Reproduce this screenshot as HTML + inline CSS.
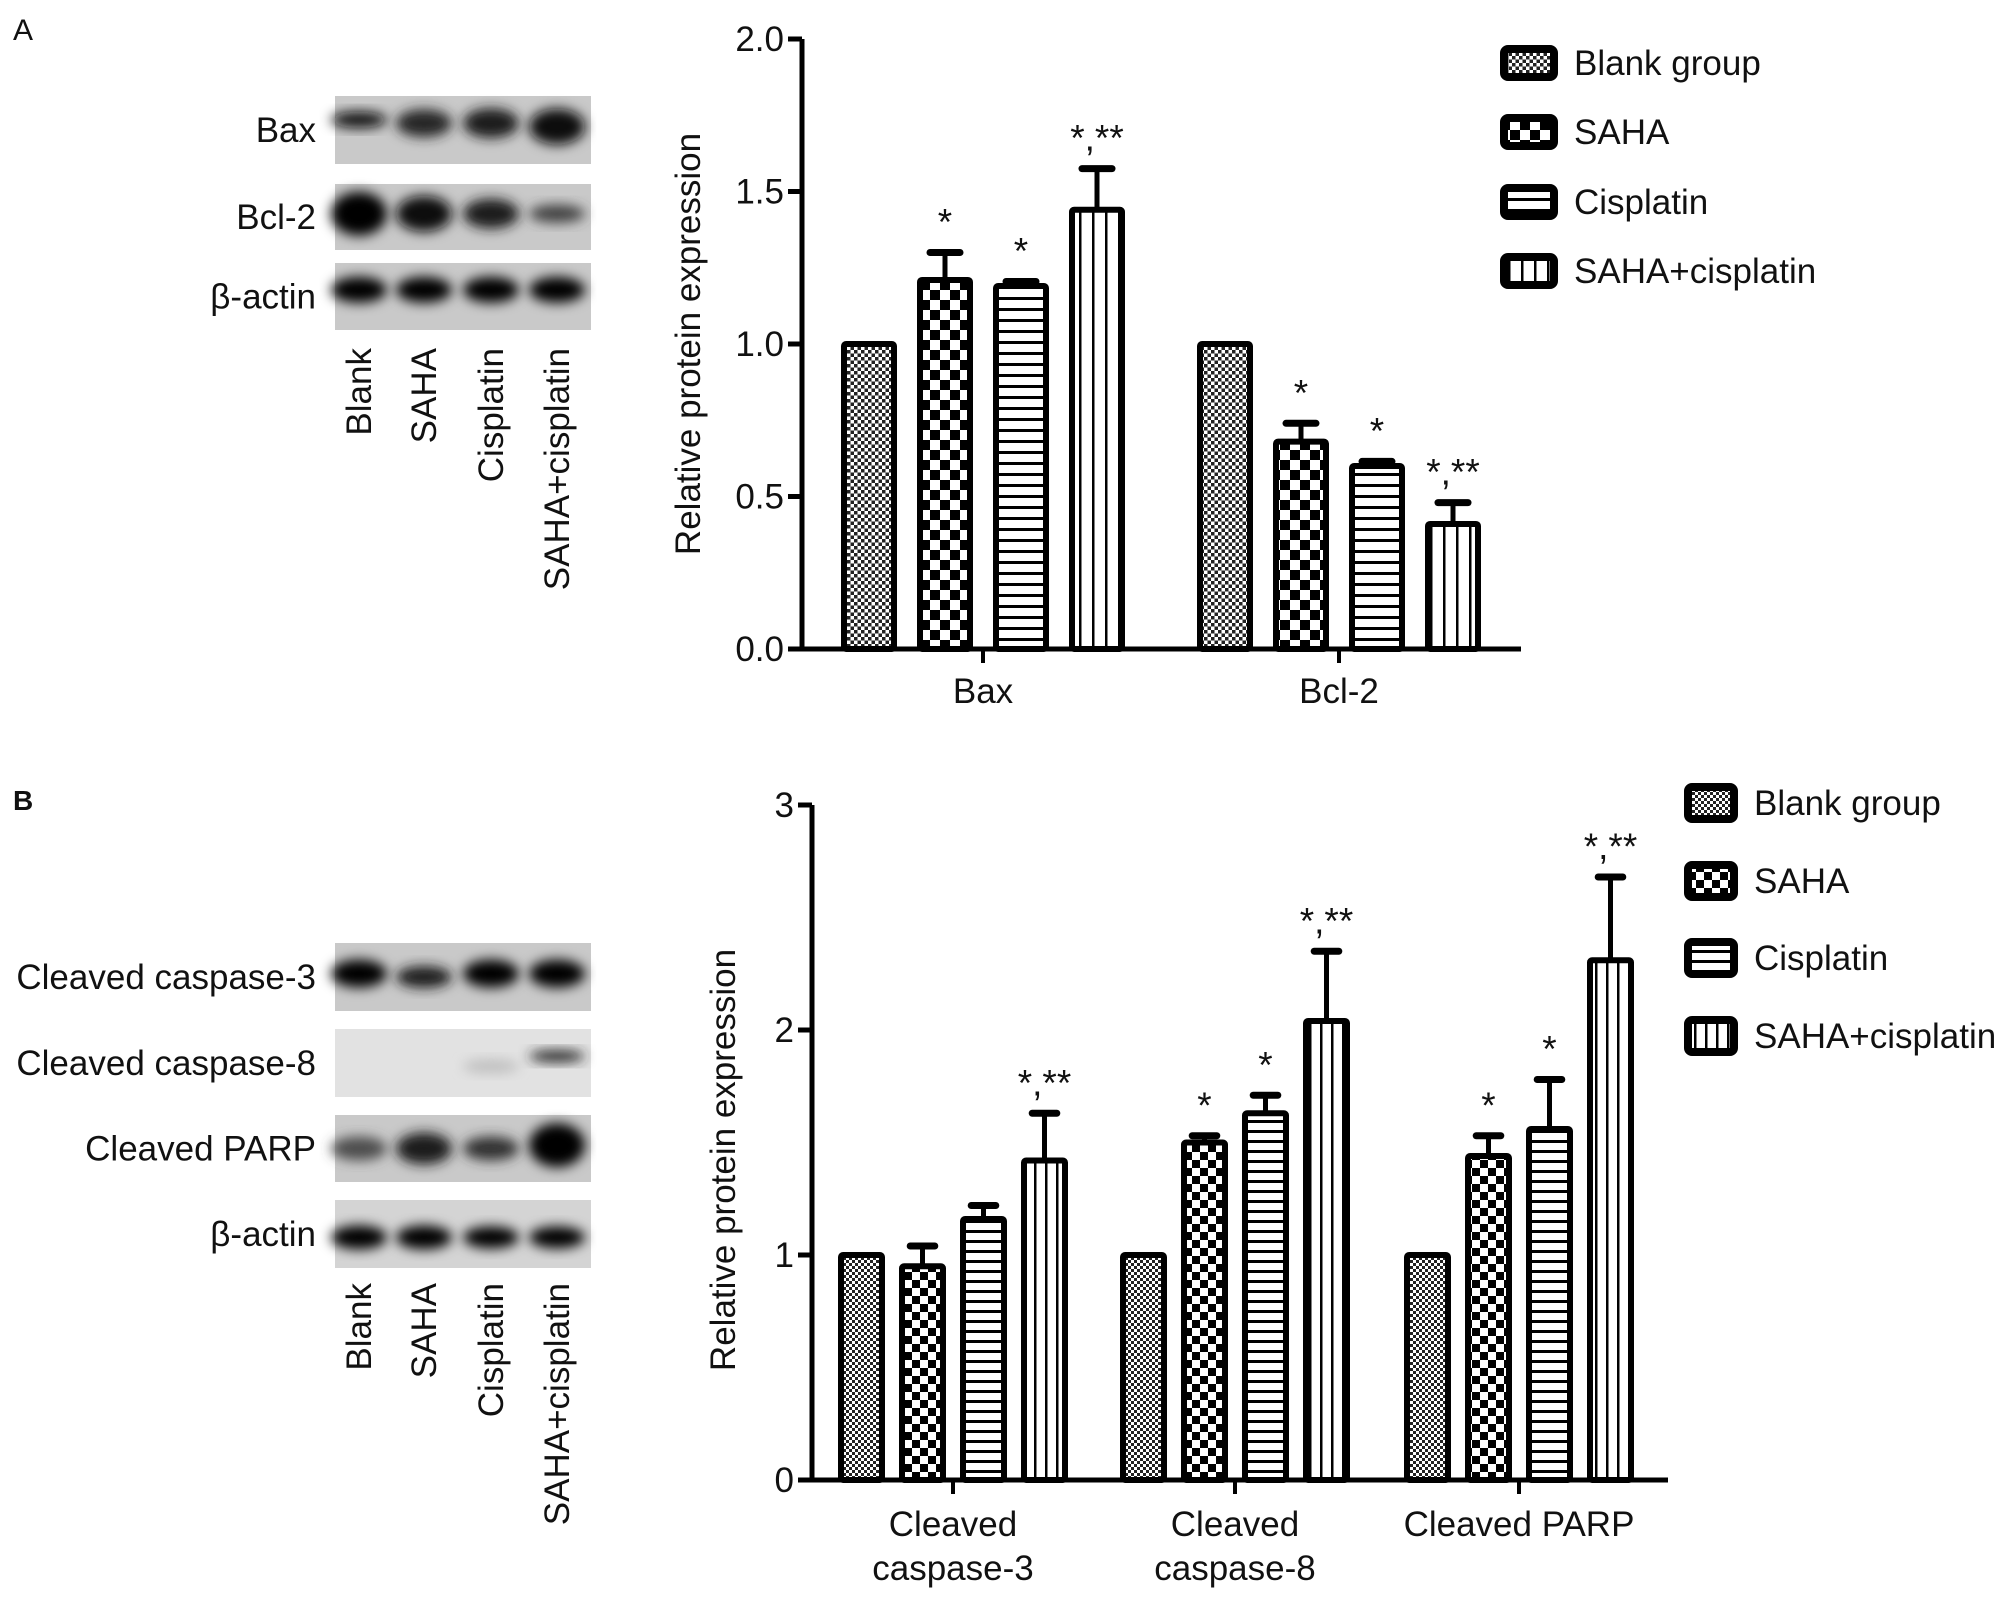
<!DOCTYPE html>
<html><head><meta charset="utf-8"><style>
body{margin:0;background:#fff}
svg{display:block}
text{font-family:"Liberation Sans",Arial,sans-serif;fill:#111}
</style></head><body>
<svg id="fig" width="2008" height="1601" viewBox="0 0 2008 1601" xmlns="http://www.w3.org/2000/svg">
<defs>
<filter id="blur6" x="-20%" y="-50%" width="140%" height="200%"><feGaussianBlur stdDeviation="6"/></filter>
<pattern id="pBlankA" width="7" height="7" patternUnits="userSpaceOnUse"><rect width="7" height="7" fill="#fff"/><rect width="3.5" height="3.5" fill="#222"/><rect x="3.5" y="3.5" width="3.5" height="3.5" fill="#222"/></pattern>
<pattern id="pSahaA" width="20" height="20" patternUnits="userSpaceOnUse"><rect width="20" height="20" fill="#fff"/><rect width="10" height="10" fill="#000"/><rect x="10" y="10" width="10" height="10" fill="#000"/></pattern>
<pattern id="pCisA" width="11" height="11" patternUnits="userSpaceOnUse"><rect width="11" height="11" fill="#fff"/><rect y="0" width="11" height="3" fill="#000"/></pattern>
<pattern id="pComboA" width="13" height="13" patternUnits="userSpaceOnUse"><rect width="13" height="13" fill="#fff"/><rect x="0" width="2.5" height="13" fill="#000"/></pattern>
<pattern id="pBlankB" width="6" height="6" patternUnits="userSpaceOnUse"><rect width="6" height="6" fill="#fff"/><rect width="3" height="3" fill="#222"/><rect x="3" y="3" width="3" height="3" fill="#222"/></pattern>
<pattern id="pSahaB" width="16" height="16" patternUnits="userSpaceOnUse"><rect width="16" height="16" fill="#fff"/><rect width="8" height="8" fill="#000"/><rect x="8" y="8" width="8" height="8" fill="#000"/></pattern>
<pattern id="pCisB" width="10" height="10" patternUnits="userSpaceOnUse"><rect width="10" height="10" fill="#fff"/><rect width="10" height="3" fill="#000"/></pattern>
<pattern id="pComboB" width="11" height="11" patternUnits="userSpaceOnUse"><rect width="11" height="11" fill="#fff"/><rect width="2.5" height="11" fill="#000"/></pattern>
</defs>

<text x="13" y="40" font-size="30">A</text>
<text x="13" y="810" font-size="28" font-weight="bold">B</text>

<g id="blotA"></g>
<g id="blotB"></g>
<g id="chartA"></g>
<g id="chartB"></g>
</svg>
<script>
// ---- Data: chart A ----
const catsA = ["Bax", "Bcl-2"];
const seriesNames = ["Blank group", "SAHA", "Cisplatin", "SAHA+cisplatin"];
const blankA = [1.0, 1.0];
const sahaA = [1.21, 0.68];
const cisA = [1.19, 0.60];
const comboA = [1.44, 0.41];
const errBlankA = [0, 0];
const errSahaA = [0.09, 0.06];
const errCisA = [0.015, 0.015];
const errComboA = [0.135, 0.07];
const sigA = [["", "*", "*", "*,**"], ["", "*", "*", "*,**"]];
const ticksA = ["0.0", "0.5", "1.0", "1.5", "2.0"];
const tickValsA = [0, 0.5, 1.0, 1.5, 2.0];
// ---- Data: chart B ----
const catsB = [["Cleaved", "caspase-3"], ["Cleaved", "caspase-8"], ["Cleaved PARP"]];
const blankB = [1.0, 1.0, 1.0];
const sahaB = [0.95, 1.50, 1.44];
const cisB = [1.16, 1.63, 1.56];
const comboB = [1.42, 2.04, 2.31];
const errBlankB = [0, 0, 0];
const errSahaB = [0.09, 0.03, 0.09];
const errCisB = [0.06, 0.08, 0.22];
const errComboB = [0.21, 0.31, 0.37];
const sigB = [["", "", "", "*,**"], ["", "*", "*", "*,**"], ["", "*", "*", "*,**"]];
const ticksB = ["0", "1", "2", "3"];
const tickValsB = [0, 1, 2, 3];

const NS = "http://www.w3.org/2000/svg";
function mk(parent, tag, attrs, txt) {
  const e = document.createElementNS(NS, tag);
  for (const k in attrs) e.setAttribute(k, attrs[k]);
  if (txt !== undefined) e.textContent = txt;
  parent.appendChild(e);
  return e;
}

function drawChart(g, cfg) {
  const yS = v => cfg.y0 - (v / cfg.ymax) * (cfg.y0 - cfg.yTop);
  const series = cfg.series;
  let ax = mk(g, "line", {x1: cfg.xAxis, y1: cfg.yTop, x2: cfg.xAxis, y2: cfg.y0 + 2, stroke: "#000", "stroke-width": 5});
  
  
  let bx = mk(g, "line", {x1: cfg.xAxis - 14, y1: cfg.y0, x2: cfg.xEnd, y2: cfg.y0, stroke: "#000", "stroke-width": 5});
  
  
  cfg.tickVals.forEach((v, i) => {
    const y = yS(v);
    mk(g, "line", {x1: cfg.xAxis - 14, y1: y, x2: cfg.xAxis, y2: y, stroke: "#000", "stroke-width": 5});
    const t = mk(g, "text", {x: cfg.xAxis - 18, y: y + 12, "font-size": cfg.fs, "text-anchor": "end"}, cfg.ticks[i]);
    
    
  });
  const yt = mk(g, "text", {x: 0, y: 0, "font-size": cfg.fs, "text-anchor": "middle", transform: `translate(${cfg.titleX},${cfg.titleY}) rotate(-90)`}, "Relative protein expression");
  
  
  cfg.cats.forEach((c, ci) => {
    const cx = cfg.centers[ci];
    mk(g, "line", {x1: cx, y1: cfg.y0, x2: cx, y2: cfg.y0 + 14, stroke: "#000", "stroke-width": 4});
    const lines = Array.isArray(c) ? c : [c];
    lines.forEach((ln, li) => {
      const t = mk(g, "text", {x: cx, y: cfg.y0 + cfg.catDy + li * cfg.catLh, "font-size": cfg.fs, "text-anchor": "middle"}, ln);
      
      
    });
    series.forEach((s, si) => {
      const bxc = cx + (si - 1.5) * cfg.pitch;
      const v = s.vals[ci], e = s.errs[ci];
      const yv = yS(v);
      if (e > 0) {
        const ye = yS(v + e);
        const el = mk(g, "line", {x1: bxc, y1: yv, x2: bxc, y2: ye, stroke: "#000", "stroke-width": 5});
        
        
        mk(g, "line", {x1: bxc - cfg.bw * 0.3, y1: ye, x2: bxc + cfg.bw * 0.3, y2: ye, stroke: "#000", "stroke-width": 7, "stroke-linecap": "round"});
      }
      const r = mk(g, "rect", {x: bxc - cfg.bw / 2, y: yv, width: cfg.bw, height: cfg.y0 - yv, fill: `url(#${s.pat})`, stroke: "#000", "stroke-width": 6, rx: 2});
      
      
      const sg = cfg.sig[ci][si];
      if (sg) {
        const top = yS(v + e);
        const t = mk(g, "text", {x: bxc, y: top - 18, "font-size": cfg.fs + 2, "text-anchor": "middle"}, sg);
        
        
      }
    });
  });
  series.forEach((s, si) => {
    const ly = cfg.legY[si];
    const lg = mk(g, "g", {});
    
    
    mk(lg, "rect", {x: cfg.legX, y: ly - cfg.legH / 2, width: cfg.legW, height: cfg.legH, fill: `url(#${s.pat})`, stroke: "#000", "stroke-width": 8, rx: 4});
    mk(lg, "text", {x: cfg.legX + cfg.legW + 20, y: ly + 12, "font-size": cfg.legFs}, seriesNames[si]);
  });
}

drawChart(document.getElementById("chartA"), {
  y0: 649, yTop: 39, ymax: 2.0, xAxis: 802, xEnd: 1521, fs: 35,
  ticks: ticksA, tickVals: tickValsA, cats: catsA, centers: [983, 1339],
  pitch: 76, bw: 50, catDy: 54, catLh: 40, titleX: 700, titleY: 344, sig: sigA,
  series: [
    {key: "blank", vals: blankA, errs: errBlankA, pat: "pBlankA"},
    {key: "saha", vals: sahaA, errs: errSahaA, pat: "pSahaA"},
    {key: "cisplatin", vals: cisA, errs: errCisA, pat: "pCisA"},
    {key: "combo", vals: comboA, errs: errComboA, pat: "pComboA"}],
  legX: 1504, legY: [63, 132, 202, 271], legW: 50, legH: 28, legFs: 35
});
drawChart(document.getElementById("chartB"), {
  y0: 1480, yTop: 805, ymax: 3, xAxis: 812, xEnd: 1668, fs: 35,
  ticks: ticksB, tickVals: tickValsB, cats: catsB, centers: [953, 1235, 1519],
  pitch: 61, bw: 41, catDy: 56, catLh: 44, titleX: 735, titleY: 1160, sig: sigB,
  series: [
    {key: "blank", vals: blankB, errs: errBlankB, pat: "pBlankB"},
    {key: "saha", vals: sahaB, errs: errSahaB, pat: "pSahaB"},
    {key: "cisplatin", vals: cisB, errs: errCisB, pat: "pCisB"},
    {key: "combo", vals: comboB, errs: errComboB, pat: "pComboB"}],
  legX: 1688, legY: [803, 881, 958, 1036], legW: 46, legH: 32, legFs: 35
});

// ---- Western blots (visual) ----
const lanes = ["Blank", "SAHA", "Cisplatin", "SAHA+cisplatin"];
const laneX = [359, 424, 491, 557];
function blot(g, rows, laneTop, fs) {
  rows.forEach(r => {
    const rg = mk(g, "g", {});
    
    
    mk(rg, "rect", {x: 335, y: r.y, width: 256, height: r.h, fill: r.bg || "#c9c9c9"});
    r.bands.forEach((b, i) => {
      if (b[0] <= 0) return;
      const gray = Math.round(255 - 255 * b[0]);
      mk(rg, "ellipse", {cx: laneX[i], cy: r.y + r.h * b[2], rx: 28, ry: b[1], fill: `rgb(${gray},${gray},${gray})`, filter: "url(#blur6)"});
    });
    mk(rg, "text", {x: 316, y: r.y + r.h / 2 + 12, "font-size": fs, "text-anchor": "end"}, r.label);
  });
  lanes.forEach((l, i) => {
    const t = mk(g, "text", {x: 0, y: 0, "font-size": 35, "text-anchor": "end", transform: `translate(${laneX[i] + 12},${laneTop}) rotate(-90)`}, l);
    
    
  });
}
blot(document.getElementById("blotA"), [
  {y: 96, h: 68, label: "Bax", bands: [[0.95, 8, 0.35], [0.85, 14, 0.4], [0.9, 15, 0.4], [0.95, 18, 0.45]]},
  {y: 184, h: 66, label: "Bcl-2", bands: [[1, 22, 0.45], [0.95, 18, 0.45], [0.9, 15, 0.45], [0.75, 9, 0.45]]},
  {y: 263, h: 67, label: "β-actin", bands: [[1, 13, 0.4], [1, 13, 0.4], [1, 13, 0.4], [1, 13, 0.4]]}
], 348, 35);
blot(document.getElementById("blotB"), [
  {y: 943, h: 68, label: "Cleaved caspase-3", bands: [[1, 14, 0.45], [0.9, 11, 0.5], [1, 14, 0.45], [1, 14, 0.45]]},
  {y: 1029, h: 68, label: "Cleaved caspase-8", bg: "#e2e2e2", bands: [[0, 0, 0], [0, 0, 0], [0.25, 7, 0.55], [0.85, 6, 0.4]]},
  {y: 1115, h: 67, label: "Cleaved PARP", bands: [[0.7, 12, 0.5], [0.9, 16, 0.5], [0.8, 12, 0.5], [1, 22, 0.45]]},
  {y: 1200, h: 68, label: "β-actin", bg: "#d4d4d4", bands: [[1, 12, 0.55], [1, 12, 0.55], [1, 11, 0.55], [1, 11, 0.55]]}
], 1283, 35);
</script>
</body></html>
